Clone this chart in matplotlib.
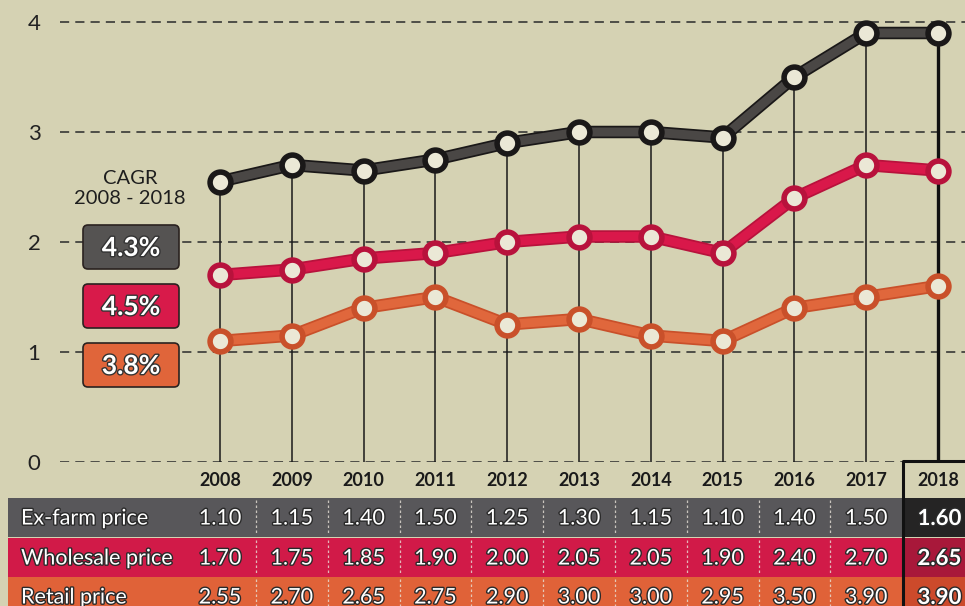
import matplotlib.pyplot as plt
import matplotlib.patheffects as pe
from matplotlib.patches import Rectangle, FancyBboxPatch
from matplotlib.transforms import blended_transform_factory

plt.rcParams['font.family'] = ['Lato', 'DejaVu Sans']

# data
years = ['2008', '2009', '2010', '2011', '2012', '2013', '2014', '2015', '2016', '2017', '2018']
ex_farm = [1.10, 1.15, 1.40, 1.50, 1.25, 1.30, 1.15, 1.10, 1.40, 1.50, 1.60]
wholesale = [1.70, 1.75, 1.85, 1.90, 2.00, 2.05, 2.05, 1.90, 2.40, 2.70, 2.65]
retail = [2.55, 2.70, 2.65, 2.75, 2.90, 3.00, 3.00, 2.95, 3.50, 3.90, 3.90]
row_names = ['Ex-farm price', 'Wholesale price', 'Retail price']
cagr = ['4.3%', '4.5%', '3.8%']
yticks = [0, 1, 2, 3, 4]

bg = '#d5d2b3'
dark = '#4a4745'
red = '#d9184a'
orange = '#e0673c'
row_cols = ['#58575a', '#d11a48', '#e06238']
row_cols18 = ['#252424', '#a8183a', '#cc4a2b']
box_cols = ['#555352', '#d81a4a', '#e0653a']

fig = plt.figure(figsize=(9.65, 6.06), dpi=100, facecolor=bg)

# main chart
ax = fig.add_axes([60/965, 144/606, 905/965, 462/606])
ax.patch.set_alpha(0)
step = 71.8
ax.set_xlim(-160/step, 745/step)
ax.set_ylim(0, 4.2)
x = list(range(len(years)))

ax.set_yticks(yticks)
ax.set_yticklabels([str(t) for t in yticks], fontsize=16, color='#222')
ax.tick_params(axis='y', length=0, pad=14)
ax.set_xticks([])
for s in ax.spines.values():
    s.set_visible(False)
ax.yaxis.grid(True, linestyle=(0, (6, 4)), color='#2a2a2a', lw=1.1)
ax.set_axisbelow(True)

# drop lines
ax.vlines(x[:-1], 0, retail[:-1], color='#1a1a1a', lw=1.1, zorder=2)
ax.vlines(x[-1:], 0, retail[-1:], color='#111', lw=2.4, zorder=2)

def draw(vals, col, edge):
    ax.plot(x, vals, color=edge, lw=9, solid_capstyle='round', zorder=3)
    ax.plot(x, vals, color=col, lw=6.5, solid_capstyle='round', zorder=4,
            marker='o', ms=15, mfc='#ebe8d6', mec=edge, mew=4)

draw(ex_farm, orange, '#c9502a')
draw(wholesale, red, '#b8123c')
draw(retail, dark, '#1a1818')

# overlay in pixel units for labels / table
ov = fig.add_axes([0, 0, 1, 1])
ov.set_xlim(0, 965)
ov.set_ylim(606, 0)
ov.axis('off')
ov.patch.set_alpha(0)
bt = blended_transform_factory(ax.transData, ov.transData)

ov.text(130, 179, 'CAGR', ha='center', va='center', fontsize=14.5, color='#1e1e1e')
ov.text(130, 199, '2008 - 2018', ha='center', va='center', fontsize=14.5, color='#1e1e1e')
for i, (c, bc) in enumerate(zip(cagr, box_cols)):
    yc = 247 + i * 59
    ov.add_patch(FancyBboxPatch((83, yc - 22), 96, 44, boxstyle='round,pad=0,rounding_size=5',
                                fc=bc, ec='#2a2220', lw=1.2))
    ov.text(131, yc + 1, c, ha='center', va='center', fontsize=19, fontweight='bold',
            color='white', path_effects=[pe.withStroke(linewidth=2, foreground='#333')])

# year header
for i, y in enumerate(years):
    ov.text(i, 480, y, transform=bt, ha='center', va='center', fontsize=13,
            fontweight='bold', color='#1a1a1a')

# table rows
row_top = [498, 538, 577]
row_h = 39
for r, (name, vals) in enumerate(zip(row_names, [ex_farm, wholesale, retail])):
    t = row_top[r]
    ov.add_patch(Rectangle((8, t), 177, row_h, fc=row_cols[r], ec='none'))
    ov.add_patch(Rectangle((-0.49, t), 10.0, row_h, transform=bt, fc=row_cols[r], ec='none'))
    ov.add_patch(Rectangle((9.51, t), 1.2, row_h, transform=bt, fc=row_cols18[r], ec='none'))
    ov.text(21, t + row_h / 2 + 1, name, ha='left', va='center', fontsize=15.5, color='white',
            path_effects=[pe.withStroke(linewidth=2, foreground='#2a2a2a')])
    for i, v in enumerate(vals):
        last = i == len(vals) - 1
        ov.text(i + (0.02 if last else 0), t + row_h / 2 + 1, f'{v:.2f}', transform=bt,
                ha='center', va='center', fontsize=16 if last else 15.5,
                fontweight='bold' if last else 'normal', color='white',
                path_effects=[pe.withStroke(linewidth=2, foreground='#2a2a2a')])
    for i in range(len(vals) - 2):
        ov.plot([i + 0.5, i + 0.5], [t + 2, t + row_h - 2], transform=bt,
                color='#e8e2d8', lw=0.9, ls=(0, (2, 2)), alpha=0.8)

# 2018 box
ov.plot([9.51, 9.51, 10.7], [606, 461, 461], transform=bt, color='#111', lw=2.2)

fig.savefig('out.png', dpi=100, facecolor=bg)
